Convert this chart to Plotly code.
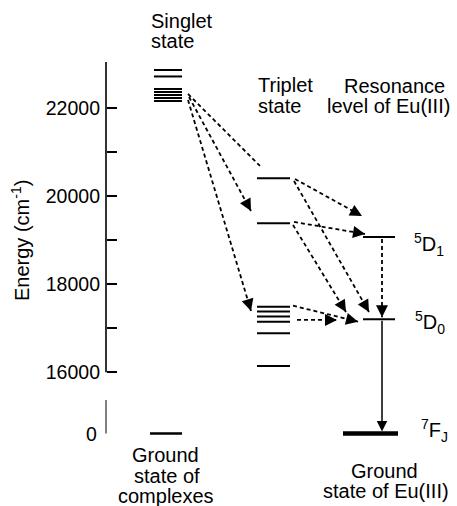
import math
import plotly.graph_objects as go

# ---------------- data (energies in cm^-1) ----------------
singlet_levels = [22870, 22723, 22439, 22370, 22302, 22234, 22166]
triplet_levels = [20409, 19386, 17490, 17380, 17265, 17150, 16885, 16145]
eu_5d1 = 19075
eu_5d0 = 17205
ground_level = 0

y_tickvals = [16000, 17000, 18000, 19000, 20000, 21000, 22000]
y_ticktext = ["16000", "", "18000", "", "20000", "", "22000"]

# energy-transfer arrows: (x_tail, E_tail, x_head, E_head)
transfer_arrows = [
    (188, 22325, 260, 20689),
    (189, 22257, 251, 19666),
    (188, 22189, 251, 17393),
    (295, 20393, 362, 19552),
    (294, 19416, 365, 19143),
    (294, 20348, 369, 17370),
    (293, 19348, 346, 17370),
    (293, 17514, 358, 17150),
    (297, 17189, 337, 17189),
    (382, 19030, 382, 17250),
]
emission_arrow = (382, eu_5d0, 382, ground_level)

# ---------------- layout helpers ----------------
W, H = 457, 506
Y_RANGE = [12961, 24461]
GROUND_DISP = 14609          # where E = 0 is drawn below the axis break
PX_PER_UNIT_Y = H / (Y_RANGE[1] - Y_RANGE[0])

col_singlet = (154, 182)
col_ground_complex = (150, 182)
col_triplet = (257, 290)
col_eu = (363, 395)
col_eu_ground = (343, 398)
AXIS_X = 106

FONT = "Liberation Sans, Arial, Helvetica, sans-serif"
LABEL_SIZE = 20
TICK_SIZE = 19.5


def disp(e):
    return e if e >= 15000 else GROUND_DISP + e


def level_trace(levels, span, width, color="black"):
    xs, ys = [], []
    for e in levels:
        xs += [span[0], span[1], None]
        ys += [disp(e), disp(e), None]
    return go.Scatter(x=xs, y=ys, mode="lines", hoverinfo="skip",
                      line=dict(color=color, width=width), showlegend=False)


fig = go.Figure()
fig.add_trace(level_trace(singlet_levels, col_singlet, 2))
fig.add_trace(level_trace([ground_level], col_ground_complex, 2.5))
fig.add_trace(level_trace(triplet_levels, col_triplet, 2))
fig.add_trace(level_trace([eu_5d1, eu_5d0], col_eu, 2))
fig.add_trace(level_trace([ground_level], col_eu_ground, 4.5))

# dashed transfer lines
dx, dy = [], []
for x0, e0, x1, e1 in transfer_arrows:
    dx += [x0, x1, None]
    dy += [disp(e0), disp(e1), None]
fig.add_trace(go.Scatter(x=dx, y=dy, mode="lines", hoverinfo="skip", showlegend=False,
                         line=dict(color="black", width=1.8, dash="4px,3px")))

annotations = []
# arrowheads for dashed arrows
for x0, e0, x1, e1 in transfer_arrows:
    dxp = x0 - x1
    dyp = (disp(e1) - disp(e0)) * PX_PER_UNIT_Y
    L = math.hypot(dxp, dyp)
    s = 5.0
    annotations.append(dict(x=x1, y=disp(e1), xref="x", yref="y",
                            ax=dxp / L * s, ay=dyp / L * s,
                            showarrow=True, arrowhead=2, arrowsize=1.5,
                            arrowwidth=1.6, arrowcolor="black", text=""))
# solid emission arrow
x0, e0, x1, e1 = emission_arrow
annotations.append(dict(x=x1, y=disp(e1) + 2 / PX_PER_UNIT_Y, xref="x", yref="y",
                        ax=x0, ay=disp(e0), axref="x", ayref="y",
                        showarrow=True, arrowhead=2, arrowsize=1.4,
                        arrowwidth=1.5, arrowcolor="black", text=""))


def label(text, xpx, ypx, xanchor="left", size=LABEL_SIZE, angle=0):
    annotations.append(dict(text=text, x=xpx / W, y=1 - ypx / H, xref="paper", yref="paper",
                            xanchor=xanchor, yanchor="middle", showarrow=False,
                            textangle=angle, font=dict(family=FONT, size=size, color="black")))


label("Singlet", 149, 21.5)
label("state", 149, 41.5)
label("Triplet", 256, 85)
label("state", 256, 105.5)
label("Resonance", 394, 85.5, "center")
label("level of Eu(III)", 388, 105.5, "center")
label("<sup>5</sup>D<sub>1</sub>", 412, 244)
label("<sup>5</sup>D<sub>0</sub>", 413, 322)
label("<sup>7</sup>F<sub>J</sub>", 419, 430)
label("Ground", 165, 455, "center")
label("state of", 167, 475.5, "center")
label("complexes", 166, 495.5, "center")
label("Ground", 384, 470.5, "center")
label("state of Eu(III)", 386, 490.5, "center")
label("0", 99, 434, "right", size=TICK_SIZE)
label("Energy (cm<sup>-1</sup>)", 20, 241, "center", angle=-90)

shapes = [
    dict(type="line", xref="x", yref="y", x0=AXIS_X, x1=AXIS_X, y0=16000, y1=23050,
         line=dict(color="black", width=1.6)),
    dict(type="line", xref="x", yref="y", x0=AXIS_X, x1=AXIS_X, y0=disp(760), y1=disp(0),
         line=dict(color="black", width=1)),
]

fig.update_layout(
    width=W, height=H,
    margin=dict(l=0, r=0, t=0, b=0),
    paper_bgcolor="white", plot_bgcolor="white",
    showlegend=False,
    font=dict(family=FONT, size=LABEL_SIZE, color="black"),
    xaxis=dict(range=[0, W], visible=False, fixedrange=True),
    yaxis=dict(range=Y_RANGE, anchor="free", position=AXIS_X / W, side="left",
               showline=False, showgrid=False, zeroline=False,
               tickmode="array", tickvals=y_tickvals, ticktext=y_ticktext,
               ticks="inside", ticklen=10, tickwidth=1.6, tickcolor="black",
               ticklabelstandoff=6,
               tickfont=dict(family=FONT, size=TICK_SIZE, color="black")),
    annotations=annotations,
    shapes=shapes,
)

fig.write_html("out.html")
